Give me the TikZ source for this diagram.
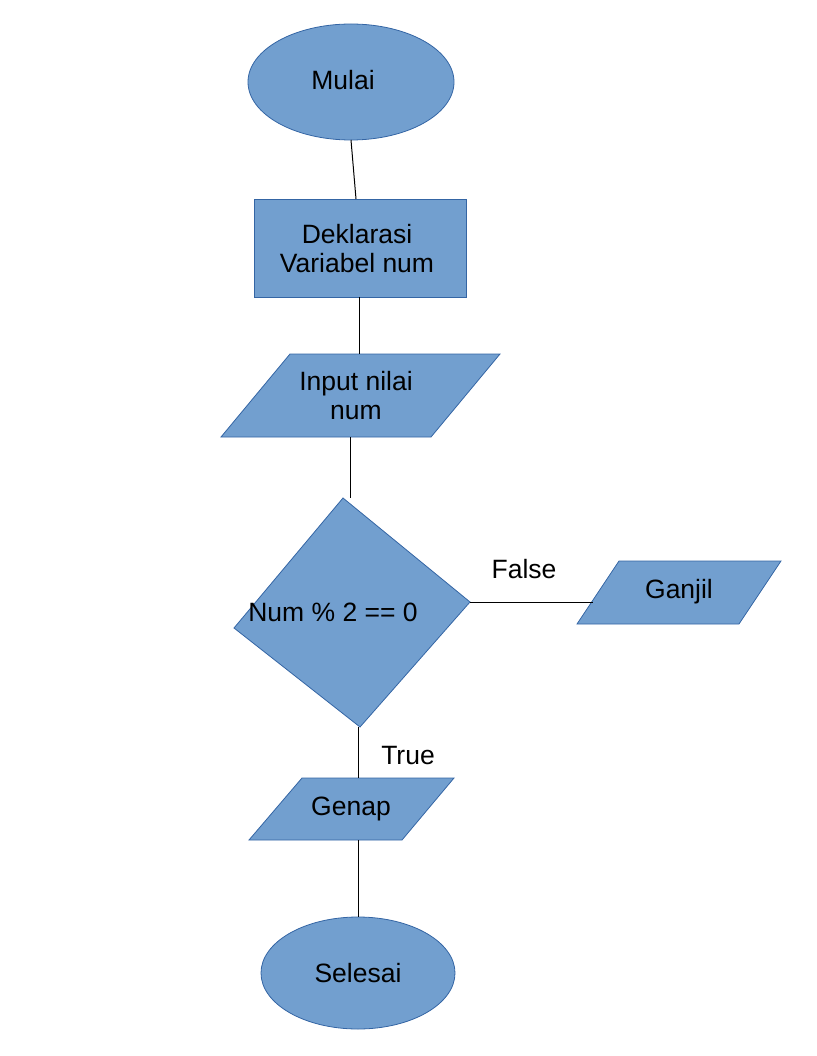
\documentclass[tikz,border=0pt]{standalone}
\usepackage{fontspec}
\setmainfont{Liberation Sans}
\usetikzlibrary{shapes.geometric}
\definecolor{boxfill}{HTML}{729FCF}
\definecolor{boxline}{HTML}{3465A4}
\tikzset{
  shapebox/.style={fill=boxfill, draw=boxline, line width=0.8pt},
  txt/.style={font=\fontsize{26.5}{29}\selectfont, align=center, inner sep=0pt, text=black},
  conn/.style={draw=black, line width=1pt},
}
\begin{document}
\begin{tikzpicture}[x=1pt,y=-1pt]
\useasboundingbox (0,0) rectangle (816,1056);
% Mulai
\node[shapebox, ellipse, minimum width=206pt, minimum height=116pt, inner sep=0pt] (mulai) at (351,82) {};
\node[txt] (tmulai) at (343,80) {Mulai};
% Deklarasi
\node[shapebox, rectangle, minimum width=212pt, minimum height=98pt, inner sep=0pt] (dekl) at (360,248) {};
\node[txt] (tdekl) at (357,249) {Deklarasi\\Variabel num};
% Input parallelogram
\draw[shapebox] (290,354) coordinate (inTop) -- (500,354) -- (431,437) coordinate (inBR) -- (221,437) -- cycle;
\coordinate (inTopC) at (359,354);
\coordinate (inBotC) at (350,437);
\node[txt] (tinput) at (356,396) {Input nilai\\ num};
% Decision diamond
\draw[shapebox] (343,498) coordinate (dTop) -- (470,602) coordinate (dRight) -- (360,727) coordinate (dBot) -- (234,628) coordinate (dLeft) -- cycle;
\node[txt] (tdec) at (333,612) {Num \% 2 == 0};
% Ganjil
\draw[shapebox] (619,561) -- (781,561) -- (739,624) -- (577,624) -- cycle;
\coordinate (gjLeft) at (593,602);
\node[txt] (tganjil) at (679,592) {Ganjil};
% Genap
\draw[shapebox] (302,778) -- (454,778) -- (402,840) -- (249,840) -- cycle;
\coordinate (gnTop) at (358,778);
\coordinate (gnBot) at (358,840);
\node[txt] (tgenap) at (351,809) {Genap};
% Selesai
\node[shapebox, ellipse, minimum width=194pt, minimum height=112pt, inner sep=0pt] (selesai) at (358,973) {};
\node[txt] (tselesai) at (358,973) {Selesai};
% Labels
\node[txt] (lfalse) at (524,569) {False};
\node[txt] (ltrue) at (408,756) {True};
% Connectors
\coordinate (mBot) at (351,140);
\coordinate (dkTop) at (356,199);
\coordinate (dkBot) at (359,297);
\coordinate (dTopIn) at (350,498);
\coordinate (dBotOut) at (358,727);
\draw[conn] (mBot) -- (dkTop);
\draw[conn] (dkBot) -- (inTopC);
\draw[conn] (inBotC) -- (dTopIn);
\draw[conn] (dRight) -- (gjLeft);
\draw[conn] (dBotOut) -- (gnTop);
\draw[conn] (gnBot) -- (selesai.north);
\end{tikzpicture}
\end{document}
